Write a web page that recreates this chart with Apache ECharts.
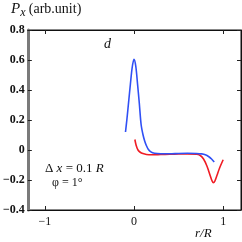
<!DOCTYPE html>
<html><head><meta charset="utf-8">
<script src="https://cdn.jsdelivr.net/npm/echarts@6/dist/echarts.min.js"></script>
<style>html,body{margin:0;padding:0;background:#fff}#c{width:242px;height:242px}</style>
</head><body><div id="c"></div>
<script>
var xTicks = [-1, 0, 1];
var blueX = [-0.095,-0.08,-0.06,-0.04,-0.02,0.0,0.02,0.04,0.06,0.08,0.10,0.12,0.14,0.16,0.19,0.23,0.3,0.4,0.5,0.6,0.7,0.76,0.8,0.84,0.87,0.9];
var blueY = [0.12,0.20,0.32,0.44,0.55,0.605,0.56,0.44,0.31,0.17,0.105,0.06,0.028,0.005,-0.013,-0.022,-0.025,-0.025,-0.023,-0.022,-0.023,-0.026,-0.032,-0.045,-0.06,-0.08];
var redX = [0.01,0.025,0.045,0.07,0.1,0.14,0.2,0.3,0.4,0.5,0.6,0.7,0.74,0.78,0.82,0.86,0.875,0.89,0.905,0.93,0.96,1.0];
var redY = [0.07,0.03,0.0,-0.015,-0.024,-0.03,-0.032,-0.03,-0.028,-0.027,-0.026,-0.028,-0.035,-0.06,-0.11,-0.18,-0.205,-0.218,-0.21,-0.17,-0.12,-0.065];

function pairs(xs, ys){ return xs.map(function(x,i){return [x, ys[i]];}); }
function fmt(v){ var s = (Math.abs(v) < 1e-9) ? '0' : String(v); return s.replace('-', '\u2212'); }

var chart = echarts.init(document.getElementById('c'), null, {renderer:'canvas'});
var serif = '"Liberation Serif", "DejaVu Serif", serif';
function xAx(pos, showLabel){
  return {
    type:'value', min:-1.19, max:1.2, gridIndex:0, position:pos,
    splitLine:{show:false},
    axisLine:{show:true, onZero:false, lineStyle:{color:'#111', width:1}},
    axisTick:{show:true, inside:true, length:4, customValues:xTicks, lineStyle:{color:'#222', width:1}},
    axisLabel:{show:showLabel, customValues:xTicks, formatter:fmt, color:'#111', fontFamily:serif, fontSize:12, margin:6}
  };
}
function yAx(pos, showLabel){
  return {
    type:'value', min:-0.4, max:0.8, interval:0.2, gridIndex:0, position:pos,
    splitLine:{show:false},
    axisLine:{show:true, onZero:false, lineStyle: pos==='left' ? {color:'#7a7a7a', width:3} : {color:'#111', width:1}},
    axisTick:{show:true, inside:true, length:4, lineStyle:{color:'#222', width:1}},
    axisLabel:{show:showLabel, formatter:function(v){return fmt(Math.round(v*10)/10);}, color:'#111', fontFamily:serif, fontWeight:'bold', fontSize:12, margin:3}
  };
}
chart.setOption({
  animation:false,
  grid:{left:24, right:1, top:30, bottom:32, containLabel:false, show:true, borderColor:'#111', borderWidth:1, backgroundColor:'transparent'},
  xAxis:[ xAx('bottom', true), xAx('top', false) ],
  yAxis:[ yAx('left', true), yAx('right', false) ],
  series:[
    {type:'line', xAxisIndex:0, yAxisIndex:0, data:pairs(blueX, blueY), smooth:0.3, showSymbol:false, lineStyle:{color:'#3050f5', width:1.6}, z:3},
    {type:'line', xAxisIndex:0, yAxisIndex:0, data:pairs(redX, redY), smooth:0.3, showSymbol:false, lineStyle:{color:'#f01c24', width:1.6}, z:2}
  ],
  graphic:[
    {type:'text', left:11, top:2, style:{
      text:'{p|P}{s|x} {n|(arb.unit)}',
      rich:{
        p:{fontFamily:serif, fontStyle:'italic', fontSize:15, fill:'#111'},
        s:{fontFamily:serif, fontStyle:'italic', fontSize:12, fill:'#111', padding:[6,0,0,0]},
        n:{fontFamily:serif, fontSize:14, fill:'#111'}
      }}},
    {type:'text', left:104, top:37, style:{text:'d', fontFamily:serif, fontStyle:'italic', fontSize:14, fill:'#111'}},
    {type:'text', left:45, top:162, style:{
      text:'{a|\u0394 }{i|x}{a| = 0.1 }{i|R}',
      rich:{a:{fontFamily:serif, fontSize:13, fill:'#111'}, i:{fontFamily:serif, fontStyle:'italic', fontSize:13, fill:'#111'}}}},
    {type:'text', left:52, top:177, style:{text:'\u03c6 = 1\u00b0', fontFamily:serif, fontSize:12, fill:'#111'}},
    {type:'text', left:195, top:227, style:{text:'r/R', fontFamily:serif, fontStyle:'italic', fontSize:13, fill:'#111'}}
  ]
});
</script></body></html>
